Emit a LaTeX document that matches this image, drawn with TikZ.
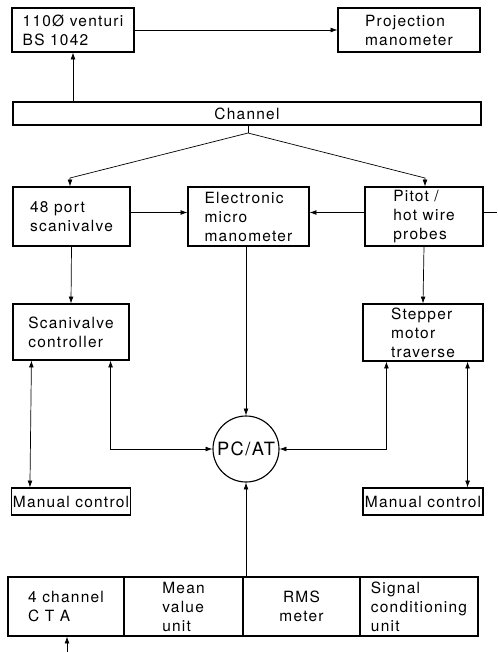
\documentclass[tikz,border=0pt]{standalone}
\usepackage{fontspec}
\setmainfont{TeX Gyre Heros}[LetterSpace=8]
\usepackage{tikz}
\usetikzlibrary{arrows.meta, positioning, calc}

\begin{document}
\begin{tikzpicture}[x=0.25mm, y=-0.25mm,
  font=\fontsize{11}{13.5}\selectfont,
  blk/.style={draw, line width=0.8pt, inner sep=1pt, align=left},
  arr/.style={-{Latex[length=1.7mm, width=1.2mm]}, line width=0.5pt},
  darr/.style={{Latex[length=1.7mm, width=1.2mm]}-{Latex[length=1.7mm, width=1.2mm]}, line width=0.5pt}]
\useasboundingbox (0,0) rectangle (497,652);

% Top row
\node[blk, minimum width=30.5mm, minimum height=11mm] (venturi) at (73,30) {110Ø venturi\\BS 1042};
\node[blk, minimum width=35.5mm, minimum height=11mm] (proj) at (409,30) {Projection\\manometer};
\node[blk, minimum width=117mm, minimum height=5.75mm, align=center] (channel) at (247,113.5) {Channel};

% Measuring devices
\node[blk, minimum width=29.25mm, minimum height=14.75mm] (scan48) at (71.5,216.5) {48 port\\scanivalve};
\node[blk, minimum width=30.25mm, minimum height=14.75mm] (elec) at (248.5,216.5) {Electronic\\micro\\manometer};
\node[blk, minimum width=29.5mm, minimum height=14.75mm] (pitot) at (424,216.5) {Pitot /\\hot wire\\probes};

% Controllers
\node[blk, minimum width=29mm, minimum height=14mm] (scanctl) at (71,332) {Scanivalve\\controller};
\node[blk, minimum width=30mm, minimum height=14.25mm] (stepper) at (423,332.5) {Stepper\\motor\\traverse};

% Computer
\node[circle, draw, line width=0.8pt, minimum size=16.5mm, inner sep=0pt,
  font=\fontsize{13}{15}\selectfont] (pc) at (246,449) {PC/AT};

% Manual controls
\node[blk, minimum width=29mm, minimum height=6.75mm] (manL) at (71,501.5) {Manual control};
\node[blk, minimum width=30mm, minimum height=6.75mm] (manR) at (423,501.5) {Manual control};

% Anemometer row
\node[blk, minimum width=29mm, minimum height=14.75mm] (cta) at (66,606.5) {4 channel\\C T A};
\node[blk, minimum width=29.75mm, minimum height=14.75mm] (mean) at (183.5,606.5) {Mean\\value\\unit};
\node[blk, minimum width=29.25mm, minimum height=14.75mm, align=center] (rms) at (301.5,606.5) {RMS\\meter};
\node[blk, minimum width=29.5mm, minimum height=14.75mm] (signal) at (419,606.5) {Signal\\conditioning\\unit};

% Channel connections
\coordinate (fork) at (248,133);
\coordinate (kl) at (70,178);
\coordinate (kr) at (425,178);
\draw[line width=0.5pt] (channel.south -| fork) -- (fork);
\draw[arr] (fork) -- (kl) -- (kl |- scan48.north);
\draw[arr] (fork) -- (kr) -- (kr |- pitot.north);
\draw[arr] (venturi.south |- channel.north) -- (venturi.south);
\draw[arr] (venturi.east) -- (proj.west);

% Pressure lines
\draw[arr] ([yshift=1mm]scan48.east) -- ([yshift=1mm]elec.west);
\draw[arr] ([yshift=1mm]pitot.west) -- ([yshift=1mm]elec.east);
\coordinate (cut) at (497,212.5);
\draw[line width=0.5pt] (pitot.east |- cut) -- (cut);

% Downward links
\draw[arr] (scan48.south) -- (scanctl.north);
\draw[arr] (pc.north |- elec.south) -- (pc.north);
\draw[arr] (pitot.south) -- (stepper.north);

% Control lines
\draw[darr] ([xshift=4.75mm]scanctl.south west) -- ([xshift=4.75mm]manL.north west);
\draw[darr] ([xshift=-4.75mm]scanctl.south east) |- (pc.west);
\draw[darr] ([xshift=6mm]stepper.south west) |- (pc.east);
\draw[darr] ([xshift=-4mm]stepper.south east) -- ([xshift=-4mm]manR.north east);

% Signal input
\draw[arr] (pc.south |- mean.north) -- (pc.south);
\coordinate (ctain) at (67,652);
\draw[arr] (ctain) -- (ctain |- cta.south);
\end{tikzpicture}
\end{document}
